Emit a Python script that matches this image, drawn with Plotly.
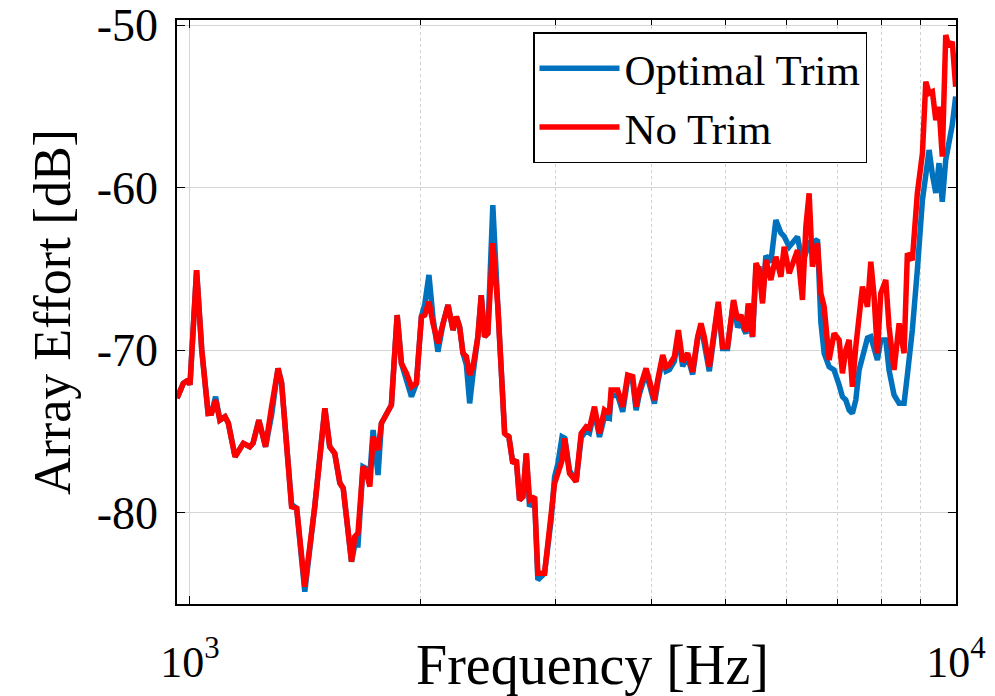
import math
import plotly.graph_objects as go

# Frequencies (Hz)
freq = [962, 980, 995, 1000, 1020, 1036, 1056, 1067, 1080, 1094,
        1111, 1122, 1145, 1174, 1197, 1209, 1230, 1255, 1278, 1303,
        1317, 1357, 1378, 1412, 1455, 1500, 1522, 1545, 1569, 1585,
        1625, 1641, 1657, 1682, 1700, 1717, 1734, 1760, 1778, 1805,
        1832, 1864, 1888, 1917, 1946, 1975, 2005, 2025, 2051, 2076,
        2107, 2140, 2172, 2205, 2227, 2249, 2272, 2295, 2318, 2341,
        2376, 2400, 2424, 2448, 2485, 2523, 2549, 2575, 2608, 2639,
        2667, 2693, 2720, 2748, 2775, 2817, 2845, 2903, 2962, 2992,
        3022, 3060, 3085, 3129, 3192, 3241, 3290, 3323, 3373, 3424,
        3476, 3528, 3546, 3617, 3672, 3727, 3784, 3823, 3861, 3939,
        3978, 4039, 4079, 4141, 4183, 4225, 4289, 4341, 4397, 4464,
        4531, 4600, 4646, 4692, 4764, 4836, 4894, 4958, 5032, 5124,
        5186, 5239, 5318, 5355, 5425, 5481, 5535, 5590, 5647, 5732,
        5819, 5908, 5966, 6057, 6148, 6210, 6303, 6368, 6431, 6495,
        6595, 6662, 6728, 6829, 6932, 7038, 7108, 7180, 7252, 7324,
        7399, 7473, 7549, 7663, 7741, 7818, 7896, 7976, 8097, 8177,
        8301, 8428, 8555, 8640, 8770, 8903, 9040, 9132, 9223, 9315,
        9411, 9502, 9596, 9696, 9793, 9888, 9990]

# Array effort, No Trim (dB)
no_trim = [-72.97, -72.05, -71.85, -72.15, -65.08, -70.0, -73.9, -73.88, -73.08, -74.31,
           -74.1, -74.49, -76.57, -75.74, -75.95, -75.72, -74.31, -75.95, -73.49, -71.13,
           -72.03, -79.64, -79.74, -84.57, -79.64, -73.59, -75.95, -76.36, -78.18, -78.51,
           -83.03, -81.49, -81.26, -77.18, -77.57, -78.41, -75.34, -76.15, -74.51, -73.9,
           -73.38, -67.85, -70.82, -71.43, -72.26, -72.05, -67.95, -67.85, -67.03, -68.36,
           -69.59, -68.36, -67.23, -68.77, -67.95, -68.57, -70.2, -70.41, -71.54, -71.03,
           -69.18, -66.62, -69.18, -68.97, -63.43, -67.34, -71.43, -75.13, -75.34, -76.97,
           -76.77, -79.23, -79.03, -76.36, -79.23, -79.03, -83.74, -83.74, -80.05, -78.2,
           -77.59, -76.8, -75.43, -77.59, -78.1, -75.13, -74.72, -74.82, -73.49, -75.13,
           -73.69, -73.9, -72.46, -72.46, -73.49, -71.54, -71.64, -73.49, -72.46, -71.13,
           -71.85, -73.08, -71.85, -70.31, -71.03, -70.92, -70.41, -68.77, -70.72, -70.2,
           -71.34, -69.18, -68.36, -69.18, -71.03, -68.77, -67.03, -69.8, -69.8, -66.92,
           -68.15, -67.85, -68.87, -67.13, -69.18, -64.66, -65.08, -67.13, -64.46, -65.69,
           -64.26, -65.49, -63.64, -65.28, -64.26, -63.85, -66.92, -62.41, -60.36, -64.87,
           -63.43, -66.51, -67.34, -70.62, -68.97, -69.38, -71.43, -70.0, -69.38, -72.26,
           -69.8, -67.74, -66.1, -67.34, -64.57, -66.72, -70.2, -66.51, -65.69, -68.57,
           -71.23, -68.36, -70.2, -64.05, -64.46, -60.36, -57.9, -53.49, -54.2, -54.1,
           -55.85, -55.03, -58.1, -50.62, -51.34, -51.03, -53.8]

# Array effort, Optimal Trim (dB)
optimal_trim = [-72.97, -72.05, -71.85, -72.15, -65.08, -70.0, -73.9, -73.88, -72.87, -74.31,
                -74.1, -74.49, -76.57, -75.74, -75.95, -75.72, -74.31, -75.95, -74.0, -71.13,
                -72.03, -79.5, -79.74, -84.87, -79.64, -73.59, -75.95, -76.36, -78.18, -78.51,
                -83.03, -82.0, -82.0, -77.18, -77.3, -77.7, -74.92, -77.69, -74.51, -73.9,
                -73.38, -67.85, -70.82, -71.85, -72.87, -72.05, -67.95, -67.2, -65.38, -68.0,
                -70.1, -68.36, -67.23, -68.77, -67.95, -68.57, -70.2, -70.9, -73.28, -71.5,
                -69.18, -66.62, -69.18, -68.97, -61.08, -67.34, -71.43, -75.13, -75.34, -76.97,
                -76.77, -79.23, -79.03, -76.36, -79.64, -79.03, -84.15, -83.74, -80.4, -77.8,
                -77.0, -75.34, -75.43, -77.4, -78.1, -75.4, -74.95, -75.1, -73.75, -75.35,
                -74.1, -74.2, -72.8, -72.8, -73.8, -71.8, -71.95, -73.7, -72.7, -71.4,
                -72.1, -73.3, -72.05, -70.5, -71.3, -71.2, -70.7, -69.1, -71.0, -70.4,
                -71.5, -69.3, -68.5, -69.5, -71.3, -69.0, -67.2, -69.9, -69.9, -67.0,
                -68.6, -68.3, -69.0, -67.3, -69.2, -65.0, -65.0, -66.9, -64.2, -64.6,
                -62.0, -62.8, -63.0, -63.64, -63.2, -63.03, -64.65, -63.85, -63.4, -63.4,
                -63.2, -68.3, -70.2, -71.03, -71.23, -72.15, -72.87, -73.08, -73.69, -73.9,
                -73.08, -71.23, -70.31, -69.26, -69.18, -69.8, -70.62, -69.38, -69.38, -71.23,
                -72.77, -73.28, -73.28, -71.54, -68.77, -65.08, -60.77, -59.23, -57.69, -59.2,
                -60.34, -58.5, -60.87, -58.3, -57.4, -56.15, -54.4]

x_major = [1000, 10000]
x_major_text = ["10<sup>3</sup>", "10<sup>4</sup>"]
x_minor = [2000, 3000, 4000, 5000, 6000, 7000, 8000, 9000]
y_ticks = [-80, -70, -60, -50]
y_tick_text = ["-80", "-70", "-60", "-50"]

FONT = "Liberation Serif, Times New Roman, serif"

fig = go.Figure()
fig.add_trace(go.Scatter(x=freq, y=optimal_trim, mode="lines", name="Optimal Trim",
                         line=dict(color="#0072BD", width=5.5)))
fig.add_trace(go.Scatter(x=freq, y=no_trim, mode="lines", name="No Trim",
                         line=dict(color="#FF0000", width=5.5)))

fig.update_layout(
    width=995, height=696,
    margin=dict(l=177, r=39, t=20, b=92),
    paper_bgcolor="white", plot_bgcolor="white",
    font=dict(family=FONT, color="black"),
    showlegend=True,
    legend=dict(x=0.457, y=0.979, xanchor="left", yanchor="top",
                bgcolor="white", bordercolor="black", borderwidth=1.5,
                font=dict(family=FONT, size=43, color="black"),
                itemwidth=80),
    xaxis=dict(type="log", range=[math.log10(961.7), 4.0],
               tickvals=x_major, ticktext=x_major_text,
               ticks="inside", ticklen=8, tickwidth=1.2, tickcolor="black",
               showline=True, linecolor="black", linewidth=1.5, mirror="ticks",
               showgrid=True, gridcolor="#d6d6d6", gridwidth=1,
               zeroline=False, automargin=False,
               tickfont=dict(family=FONT, size=44, color="black"),
               ticklabelstandoff=18,
               minor=dict(tickvals=x_minor, ticks="inside", ticklen=5,
                          tickcolor="black", showgrid=True, gridcolor="#d0d0d0",
                          griddash="dot", gridwidth=1)),
    yaxis=dict(range=[-85.63, -49.69],
               tickvals=y_ticks, ticktext=y_tick_text,
               ticks="inside", ticklen=8, tickwidth=1.2, tickcolor="black",
               showline=True, linecolor="black", linewidth=1.5, mirror="ticks",
               showgrid=True, gridcolor="#d6d6d6", gridwidth=1,
               zeroline=False, automargin=False,
               tickfont=dict(family=FONT, size=46, color="black"),
               ticklabelstandoff=8,
               title=dict(text="Array Effort [dB]", standoff=10,
                          font=dict(family=FONT, size=52, color="black"))),
    annotations=[dict(text="Frequency [Hz]", xref="paper", yref="paper",
                      x=0.533, y=-0.105, xanchor="center", yanchor="middle",
                      showarrow=False,
                      font=dict(family=FONT, size=56, color="black"))],
)

fig.write_html("out.html")
